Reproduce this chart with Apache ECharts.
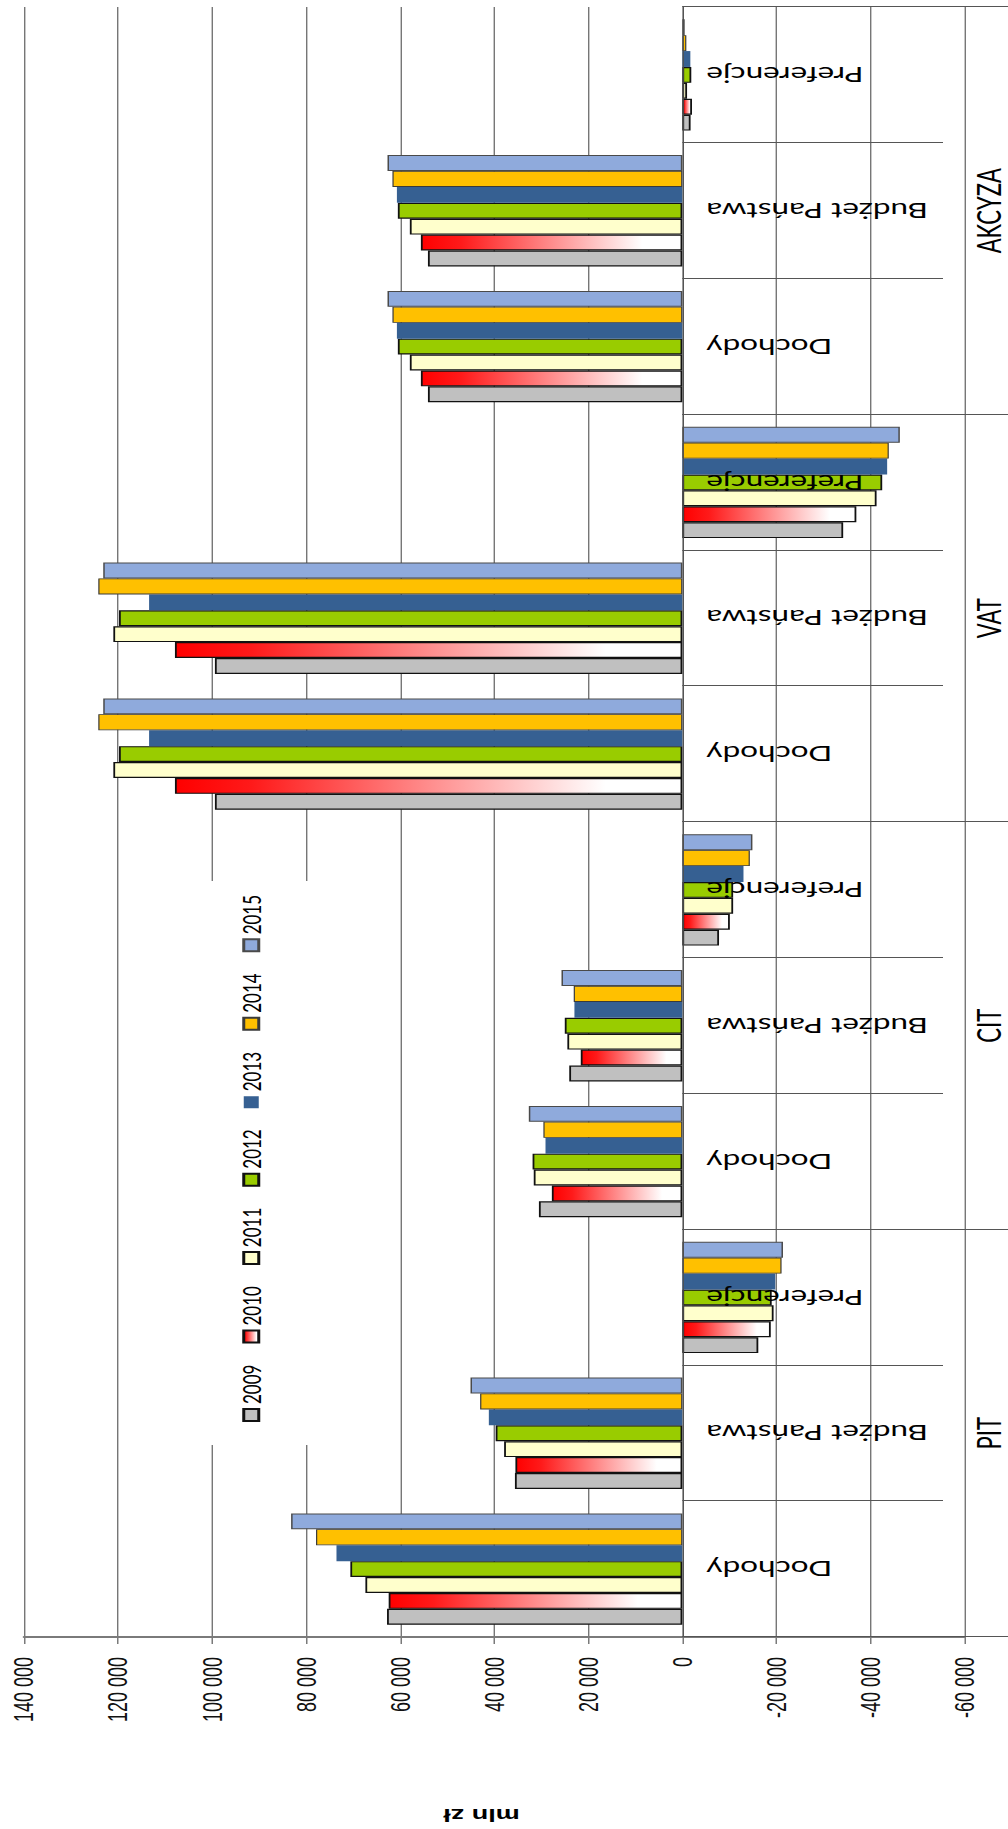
<!DOCTYPE html>
<html>
<head>
<meta charset="utf-8">
<script src="https://cdn.jsdelivr.net/npm/echarts@6/dist/echarts.min.js"></script>
<style>
  html, body { margin: 0; padding: 0; background: #ffffff; overflow: hidden; width: 1008px; height: 1829px; }
  /* The chart is laid out upright (1829 wide) and turned a quarter turn
     counter-clockwise; its vertical direction is stretched by STRETCH. */
  #chart { position: absolute; left: 0; top: 0; width: 1829px; transform-origin: 0 0; }
</style>
</head>
<body>
<div id="chart"></div>
<script>
// ---- data (mln zł) ----
const groups = ['PIT', 'CIT', 'VAT', 'AKCYZA'];
const parts = ['Dochody', 'Budżet Państwa', 'Preferencje'];
const years = ['2009', '2010', '2011', '2012', '2013', '2014', '2015'];

// order: PIT (Dochody, Budżet Państwa, Preferencje), CIT (...), VAT (...), AKCYZA (...)
const v2009 = [62800, 35600, -16150, 30500, 24050, -7800, 99400, 99400, -34200, 54100, 54100, -1750];
const v2010 = [62450, 35500, -18800, 27750, 21600, -10100, 107900, 107900, -37000, 55600, 55600, -2050];
const v2011 = [67400, 37900, -19400, 31600, 24450, -10800, 121000, 121000, -41300, 57950, 57950, -1000];
const v2012 = [70600, 39700, -19000, 31850, 25000, -10800, 119800, 119800, -42500, 60500, 60500, -1900];
const v2013 = [73550, 41150, -19750, 29100, 22950, -13000, 113400, 113400, -43550, 60700, 60700, -1700];
const v2014 = [77900, 43000, -21100, 29550, 23100, -14350, 124200, 124200, -43900, 61650, 61650, -850];
const v2015 = [83200, 45050, -21400, 32650, 25700, -14900, 123150, 123150, -46250, 62700, 62700, -500];

const axisMin = -60000;
const axisMax = 140000;
const axisStep = 20000;
const axisTitle = 'mln zł';

// ---- layout ----
const STRETCH = 1.5;
const W = 1829;
const H = 1008 / STRETCH;
const el = document.getElementById('chart');
el.style.height = H + 'px';
el.style.transform = 'translate(0px, ' + W + 'px) rotate(-90deg) scale(1, ' + STRETCH + ')';

const gridTop = 24 / STRETCH;
const gridBottom = (1008 - 964.5) / STRETCH;
const gridH = H - gridTop - gridBottom;
// both category axes sit on the zero line of the value axis
const zeroY = gridTop + gridH * (axisMax / (axisMax - axisMin));
const zeroOffset = zeroY - (gridTop + gridH);

// category keys: unique per group/part, shown as the part name
const categories = [];
groups.forEach(g => parts.forEach(p => categories.push(g + '|' + p)));

const seriesValues = [v2009, v2010, v2011, v2012, v2013, v2014, v2015];

const redFade = new echarts.graphic.LinearGradient(0, 0, 0, 1, [
  { offset: 0, color: '#ff0000' },
  { offset: 0.15, color: '#ff1a1a' },
  { offset: 0.85, color: '#ffffff' },
  { offset: 1, color: '#ffffff' }
]);

const styles = [
  { color: '#c0c0c0', borderColor: '#111111', borderWidth: 1.2 },
  { color: redFade,   borderColor: '#111111', borderWidth: 1.2 },
  { color: '#ffffcc', borderColor: '#111111', borderWidth: 1.2 },
  { color: '#99cc00', borderColor: '#111111', borderWidth: 1.2 },
  { color: '#366092', borderColor: '#366092', borderWidth: 0 },
  { color: '#ffc000', borderColor: '#3a3a3a', borderWidth: 0.8 },
  { color: '#8faadc', borderColor: '#4a4a4a', borderWidth: 1 }
];

const fmt = v => {
  const s = String(Math.abs(v)).replace(/\B(?=(\d{3})+(?!\d))/g, ' ');
  return (v < 0 ? '-' : '') + s;
};

const chart = echarts.init(el, null, { renderer: 'svg', width: W, height: H });

chart.setOption({
  animation: false,
  backgroundColor: '#ffffff',
  grid: { left: 192, right: 7, top: gridTop, bottom: gridBottom, containLabel: false, outerBoundsMode: 'none' },
  legend: {
    data: years,
    orient: 'horizontal',
    left: 384,
    top: 127,
    itemWidth: 12,
    itemHeight: 10,
    itemGap: 21,
    padding: [32, 14, 32, 23],
    backgroundColor: '#ffffff',
    selectedMode: false,
    icon: 'rect',
    textStyle: { fontFamily: 'Lato', fontSize: 17, color: '#000000' }
  },
  xAxis: [
    {
      type: 'category',
      data: categories,
      position: 'bottom',
      offset: zeroOffset,
      z: 3,
      axisLine: { show: true, onZero: false, lineStyle: { color: '#4f4f4f', width: 0.8 } },
      axisTick: { show: true, length: (943 - 682.35) / STRETCH, lineStyle: { color: '#555555', width: 1 } },
      axisLabel: {
        interval: 0,
        rotate: 90,
        margin: 16,
        fontFamily: 'Lato',
        fontSize: 21,
        color: '#000000',
        formatter: v => v.split('|')[1]
      },
      splitLine: { show: false }
    },
    {
      type: 'category',
      data: groups,
      position: 'bottom',
      offset: zeroOffset,
      axisLine: { show: false, onZero: false },
      axisTick: { show: true, length: (1010 - 682.35) / STRETCH, lineStyle: { color: '#555555', width: 1 } },
      axisLabel: { interval: 0, margin: 193, fontFamily: 'Lato', fontSize: 22, color: '#000000' },
      splitLine: { show: false }
    }
  ],
  yAxis: {
    type: 'value',
    min: axisMin,
    max: axisMax,
    interval: axisStep,
    position: 'left',
    axisLine: { show: true, onZero: false, lineStyle: { color: '#7a7a7a', width: 1.8 } },
    axisTick: { show: true, length: 7, lineStyle: { color: '#7a7a7a', width: 1 } },
    axisLabel: { margin: 20, fontFamily: 'Liberation Sans', fontSize: 18, color: '#111111', formatter: fmt },
    splitLine: { show: true, lineStyle: { color: '#5f5f5f', width: 0.8 } }
  },
  graphic: [
    {
      type: 'text',
      x: 14,
      y: 321,
      rotation: Math.PI / 2,
      style: {
        text: axisTitle,
        fontFamily: 'Liberation Sans',
        fontWeight: 'bold',
        fontSize: 18,
        fill: '#000000',
        align: 'center',
        verticalAlign: 'middle'
      }
    }
  ],
  series: years.map((y, i) => ({
    name: y,
    type: 'bar',
    xAxisIndex: 0,
    yAxisIndex: 0,
    data: seriesValues[i],
    barGap: '0%',
    barCategoryGap: '18%',
    itemStyle: styles[i]
  }))
});
</script>
</body>
</html>
